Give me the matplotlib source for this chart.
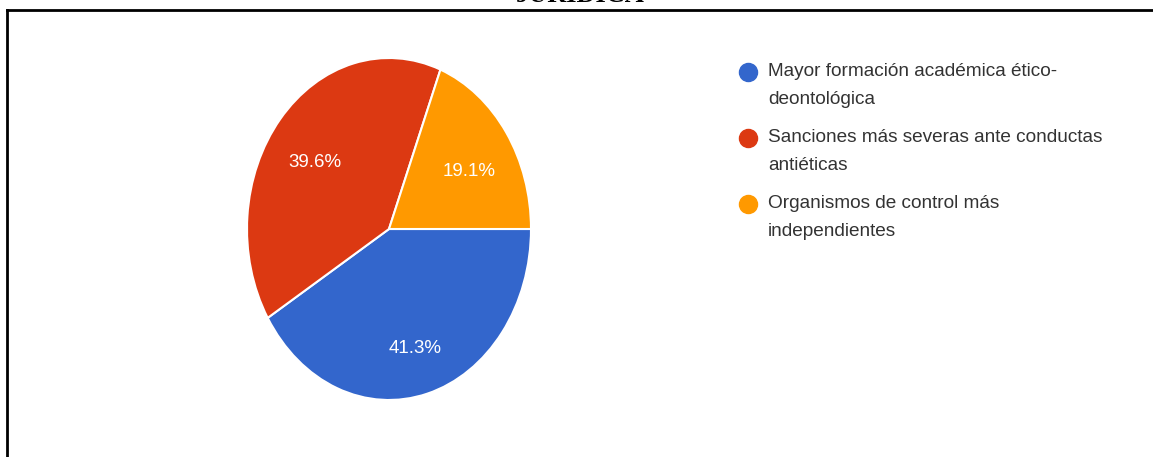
import matplotlib.pyplot as plt
from matplotlib.lines import Line2D

# Respuestas (porcentaje)
categorias = [
    "Mayor formación académica ético-\ndeontológica",
    "Sanciones más severas ante conductas\nantiéticas",
    "Organismos de control más\nindependientes",
]
porcentajes = [41.3, 39.6, 19.1]
colores = ["#3366cc", "#dc3912", "#ff9900"]

W, H = 1153, 457
fig = plt.figure(figsize=(W / 100, H / 100), dpi=100)
plt.rcParams["font.family"] = ["Liberation Sans", "DejaVu Sans"]

# pie area (pixels from top-left): x 247-531, y 58-400
ax = fig.add_axes([247 / W, (H - 400) / H, 284 / W, 342 / H])
wedges, texts, autotexts = ax.pie(
    porcentajes,
    colors=colores,
    startangle=0,
    counterclock=False,
    autopct="%.1f%%",
    pctdistance=0.68,
    wedgeprops=dict(edgecolor="white", linewidth=1.5),
    textprops=dict(color="white", fontsize=13.5),
)
ax.set_aspect("auto")
ax.set_xlim(-1.0, 1.0)
ax.set_ylim(-1.0, 1.0)
# nudge the percentages a little lower
for t in autotexts:
    x, y = t.get_position()
    t.set_position((x, y - 0.045))

# legend drawn by hand so the dot sits on the first line
y0 = 72
for i, (cat, col) in enumerate(zip(categorias, colores)):
    y = y0 + i * 66
    fig.add_artist(Line2D([748 / W], [1 - y / H], marker="o", markersize=13,
                          color=col, transform=fig.transFigure))
    fig.text(768 / W, 1 - (y - 9) / H, cat, fontsize=13.7, color="#333333",
             va="top", ha="left", linespacing=1.82)

# frame lines (top and left)
fig.add_artist(Line2D([7 / W, 1], [1 - 10 / H, 1 - 10 / H], color="black",
                      linewidth=2, transform=fig.transFigure))
fig.add_artist(Line2D([7 / W, 7 / W], [0, 1 - 10 / H], color="black",
                      linewidth=2, transform=fig.transFigure))

# title, cut at the top edge
fig.text(580 / W, 1 - 1.5 / H, "JURÍDICA", fontsize=19, fontweight="bold",
         family="Liberation Serif", ha="center", va="baseline")

fig.savefig("out.png", dpi=100)
